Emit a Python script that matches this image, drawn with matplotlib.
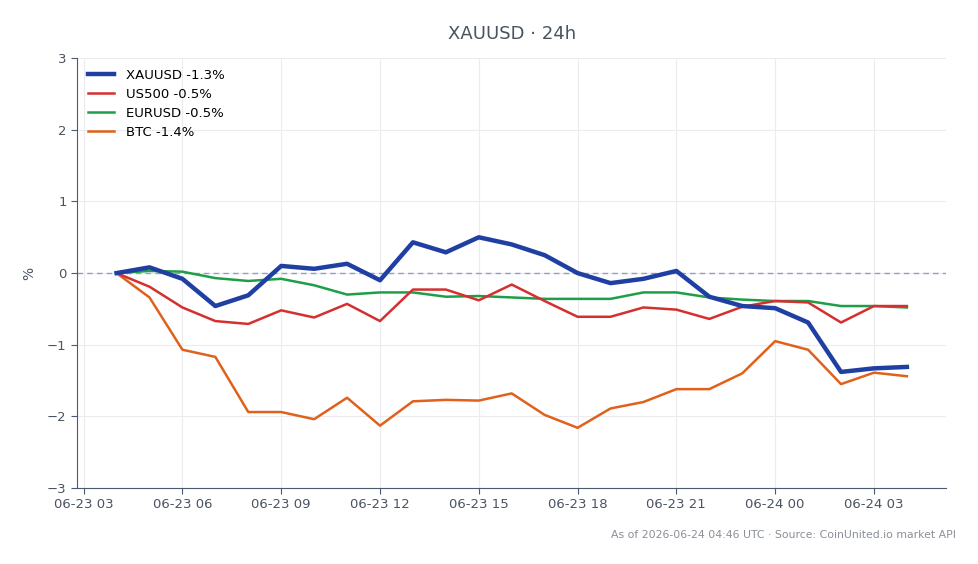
import matplotlib
matplotlib.use("Agg")
import matplotlib.pyplot as plt
import matplotlib.dates as mdates
import numpy as np
import pandas as pd

# hourly % change, 06-23 04:00 -> 06-24 04:00 UTC
times = pd.date_range("2026-06-23 04:00", "2026-06-24 04:00", freq="h")

xauusd = [0.0, 0.08, -0.08, -0.46, -0.31, 0.10, 0.06, 0.13, -0.10, 0.43, 0.29, 0.50, 0.40,
          0.25, 0.0, -0.14, -0.08, 0.03, -0.33, -0.46, -0.49, -0.69, -1.38, -1.33, -1.31]
us500 = [0.0, -0.19, -0.48, -0.67, -0.71, -0.52, -0.62, -0.43, -0.67, -0.23, -0.23, -0.38, -0.16,
         -0.39, -0.61, -0.61, -0.48, -0.51, -0.64, -0.47, -0.39, -0.41, -0.69, -0.46, -0.46]
eurusd = [0.0, 0.03, 0.02, -0.07, -0.11, -0.08, -0.17, -0.30, -0.27, -0.27, -0.33, -0.32, -0.34,
          -0.36, -0.36, -0.36, -0.27, -0.27, -0.34, -0.37, -0.39, -0.39, -0.46, -0.46, -0.48]
btc = [0.0, -0.34, -1.07, -1.17, -1.94, -1.94, -2.04, -1.74, -2.13, -1.79, -1.77, -1.78, -1.68,
       -1.98, -2.16, -1.89, -1.80, -1.62, -1.62, -1.40, -0.95, -1.07, -1.55, -1.39, -1.44]

labels = ["XAUUSD -1.3%", "US500 -0.5%", "EURUSD -0.5%", "BTC -1.4%"]
title = "XAUUSD \u00b7 24h"
footer = "As of 2026-06-24 04:46 UTC \u00b7 Source: CoinUnited.io market API"

text_col = "#4a5361"
spine_col = "#4a5a70"

fig = plt.figure(figsize=(9.79, 5.64), dpi=100)
ax = fig.add_axes([0.0787, 0.1348, 0.888, 0.762])

ax.plot(times, xauusd, color="#1f3fa3", lw=3.2, label=labels[0], zorder=5)
ax.plot(times, us500, color="#d62f2f", lw=1.8, label=labels[1], zorder=4)
ax.plot(times, eurusd, color="#1f9e48", lw=1.8, label=labels[2], zorder=3)
ax.plot(times, btc, color="#e0611b", lw=1.8, label=labels[3], zorder=2)
ax.axhline(0, color="#8ea2c0", lw=1, ls="--", dashes=(4, 3), zorder=1)

ax.set_ylim(-3, 3)
ax.set_yticks([-3, -2, -1, 0, 1, 2, 3])
ax.xaxis.set_major_locator(mdates.HourLocator(byhour=range(0, 24, 3)))
ax.xaxis.set_major_formatter(mdates.DateFormatter("%m-%d %H"))

ax.grid(True, color="#ececf0", lw=0.8)
ax.set_axisbelow(True)
for s in ["top", "right"]:
    ax.spines[s].set_visible(False)
for s in ["left", "bottom"]:
    ax.spines[s].set_color(spine_col)
ax.tick_params(colors=spine_col, labelcolor=text_col, labelsize=9.5, length=4)
ax.set_ylabel("%", color=text_col, fontsize=10, labelpad=8)

ax.legend(loc="upper left", frameon=False, fontsize=9.5, handlelength=2.0,
          handletextpad=0.9, borderaxespad=0.4, labelspacing=0.45)

ax.set_title(title, fontsize=13, color=text_col, pad=14)
fig.text(0.976, 0.051, footer, ha="right", va="center", fontsize=7.8, color="#8a8f98")

fig.savefig("out.png", dpi=100)
